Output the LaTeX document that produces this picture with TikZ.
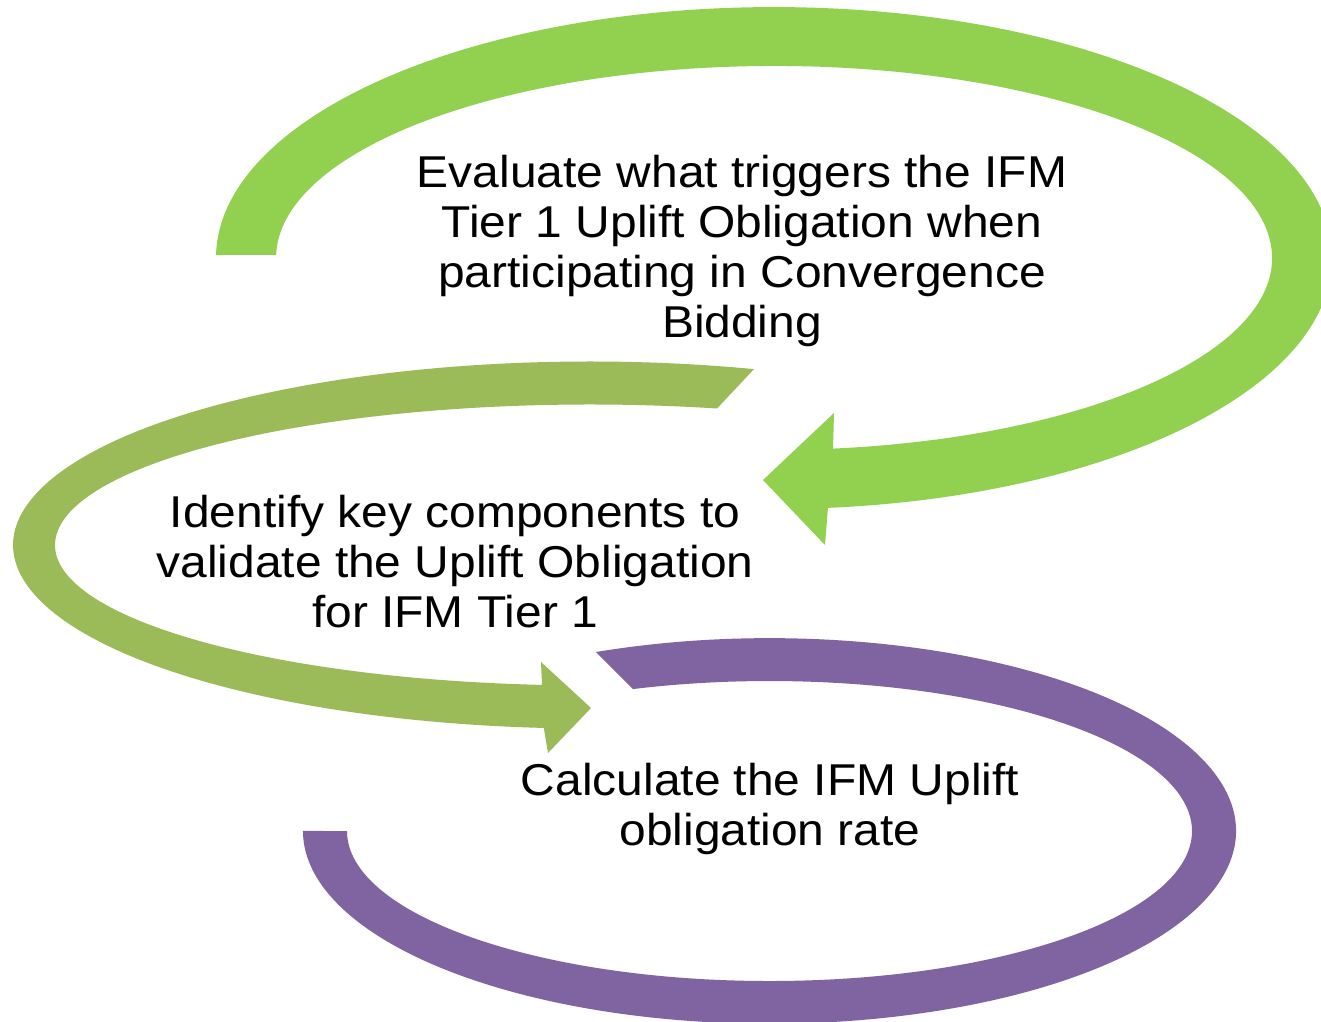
\documentclass[tikz,border=0pt]{standalone}
\usepackage{fontspec}
\setmainfont[FakeStretch=1.075]{Liberation Sans}
\definecolor{cgreen}{HTML}{92D050}
\definecolor{colive}{HTML}{9BBB59}
\definecolor{cpurple}{HTML}{8064A2}
\begin{document}
\begin{tikzpicture}[x=1pt,y=-1pt,
  band/.style={draw=none},
  cycletext/.style={anchor=base, inner sep=0pt, font=\fontsize{44.6}{50}\selectfont}]
\useasboundingbox (0,0) rectangle (1321,1021);
\clip (0,0) rectangle (1321,1021);
\fill[white] (0,0) rectangle (1321,1021);
% green band (top)
\fill[cgreen, band] (216.04,255) arc[start angle=180.7, end angle=444.45, x radius=558, y radius=251]
  -- (825,545) -- (763,480) -- (834,413) -- (833,448.6)
  arc[start angle=443.2, end angle=180.9, x radius=498, y radius=192] -- cycle;
% olive band (middle)
\fill[colive, band] (754,369.1) arc[start angle=286.51, end angle=94.6, x radius=577, y radius=183.5]
  -- (548,753) -- (591,708) -- (541,662) -- (542,684.9)
  arc[start angle=95.15, end angle=283.73, x radius=535, y radius=140.5] -- cycle;
% purple band (bottom)
\fill[cpurple, band] (596,652) arc[start angle=248.17, end angle=540, x radius=466.5, y radius=192.8]
  -- (347,831) arc[start angle=540, end angle=251.15, x radius=422.5, y radius=150] -- cycle;
% texts
\node[cycletext] (t1) at (742,187) {\begin{tabular}[t]{@{}c@{}}Evaluate what triggers the IFM\\Tier 1 Uplift Obligation when\\participating in Convergence\\Bidding\end{tabular}};
\node[cycletext] (t2) at (455,527) {\begin{tabular}[t]{@{}c@{}}Identify key components to\\validate the Uplift Obligation\\for IFM Tier 1\end{tabular}};
\node[cycletext] (t3) at (770,795) {\begin{tabular}[t]{@{}c@{}}Calculate the IFM Uplift\\obligation rate\end{tabular}};
\end{tikzpicture}
\end{document}
